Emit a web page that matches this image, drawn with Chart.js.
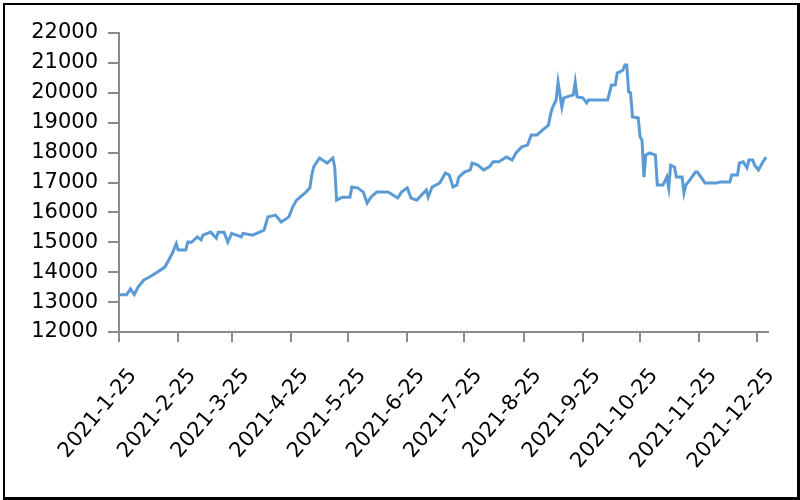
<!DOCTYPE html>
<html>
<head>
<meta charset="utf-8">
<script src="https://cdn.jsdelivr.net/npm/chart.js@4.4.0/dist/chart.umd.min.js"></script>
<style>
    html, body { margin: 0; padding: 0; background: #fff; }
    #wrap { width: 800px; height: 500px; position: relative; }
</style>
</head>
<body>
<div id="wrap"><canvas id="priceChart" width="800" height="500"></canvas></div>
<script>
    // 价格走势 (日期 / 价格)
    const dates = [
        '2021-01-25', '2021-01-29', '2021-01-31', '2021-02-02', '2021-02-04', '2021-02-07', '2021-02-10',
        '2021-02-14', '2021-02-18', '2021-02-20', '2021-02-22', '2021-02-24', '2021-02-25', '2021-03-01',
        '2021-03-02', '2021-03-04', '2021-03-07', '2021-03-09', '2021-03-10', '2021-03-14', '2021-03-17',
        '2021-03-18', '2021-03-21', '2021-03-23', '2021-03-25', '2021-03-30', '2021-03-31', '2021-04-05',
        '2021-04-11', '2021-04-13', '2021-04-17', '2021-04-20', '2021-04-24', '2021-04-26', '2021-04-28',
        '2021-05-03', '2021-05-05', '2021-05-06', '2021-05-07', '2021-05-10', '2021-05-14', '2021-05-17',
        '2021-05-18', '2021-05-19', '2021-05-22', '2021-05-26', '2021-05-27', '2021-05-30', '2021-06-02',
        '2021-06-04', '2021-06-06', '2021-06-09', '2021-06-15', '2021-06-20', '2021-06-22', '2021-06-25',
        '2021-06-27', '2021-06-30', '2021-07-05', '2021-07-06', '2021-07-08', '2021-07-12', '2021-07-15',
        '2021-07-17', '2021-07-19', '2021-07-21', '2021-07-22', '2021-07-25', '2021-07-28', '2021-07-29',
        '2021-08-01', '2021-08-04', '2021-08-07', '2021-08-09', '2021-08-12', '2021-08-16', '2021-08-19',
        '2021-08-21', '2021-08-24', '2021-08-27', '2021-08-29', '2021-09-01', '2021-09-04', '2021-09-07',
        '2021-09-08', '2021-09-09', '2021-09-11', '2021-09-12', '2021-09-14', '2021-09-15', '2021-09-20',
        '2021-09-21', '2021-09-22', '2021-09-25', '2021-09-27', '2021-09-28', '2021-10-08', '2021-10-10',
        '2021-10-12', '2021-10-13', '2021-10-16', '2021-10-17', '2021-10-18', '2021-10-19', '2021-10-20',
        '2021-10-21', '2021-10-24', '2021-10-25', '2021-10-26', '2021-10-27', '2021-10-28', '2021-10-30',
        '2021-11-02', '2021-11-03', '2021-11-06', '2021-11-08', '2021-11-09', '2021-11-10', '2021-11-12',
        '2021-11-13', '2021-11-16', '2021-11-17', '2021-11-18', '2021-11-20', '2021-11-23', '2021-11-24',
        '2021-11-27', '2021-11-28', '2021-12-04', '2021-12-06', '2021-12-11', '2021-12-12', '2021-12-15',
        '2021-12-16', '2021-12-18', '2021-12-20', '2021-12-21', '2021-12-23', '2021-12-24', '2021-12-26',
        '2021-12-28', '2021-12-30'
    ];
    const prices = [
        13250, 13250, 13440, 13250, 13500, 13740, 13840,
        14000, 14170, 14400, 14640, 14950, 14740, 14740,
        15010, 15000, 15180, 15080, 15240, 15340, 15140,
        15340, 15340, 15010, 15300, 15180, 15300, 15240,
        15410, 15850, 15910, 15680, 15850, 16180, 16410,
        16680, 16820, 17250, 17520, 17820, 17650, 17820,
        17520, 16410, 16510, 16510, 16850, 16820, 16680,
        16310, 16510, 16680, 16680, 16480, 16680, 16820,
        16480, 16410, 16750, 16510, 16850, 16980, 17320,
        17250, 16850, 16920, 17180, 17350, 17420, 17650,
        17580, 17420, 17520, 17690, 17690, 17850, 17750,
        17990, 18190, 18250, 18590, 18590, 18760, 18920,
        19260, 19490, 19760, 20360, 19520, 19830, 19930,
        20360, 19860, 19830, 19660, 19760, 19760, 20260,
        20260, 20660, 20760, 20930, 20930, 20030, 20000,
        19190, 19160, 18520, 18420, 17180, 17920, 17990,
        17920, 16920, 16920, 17180, 16820, 17580, 17520,
        17180, 17180, 16650, 16920, 17080, 17350, 17350,
        17080, 16980, 16980, 17020, 17020, 17250, 17250,
        17650, 17690, 17490, 17750, 17750, 17580, 17420,
        17650, 17850
    ];

    // 横轴刻度
    const tickDates = [
        '2021-01-25', '2021-02-25', '2021-03-25', '2021-04-25', '2021-05-25', '2021-06-25',
        '2021-07-25', '2021-08-25', '2021-09-25', '2021-10-25', '2021-11-25', '2021-12-25'
    ];
    const axisStart = '2021-01-25';
    const axisEnd = '2021-12-31';

    const yMin = 12000;
    const yMax = 22000;
    const yStep = 1000;

    const DAY = 86400000;
    function dayIndex(d) {
        return (Date.parse(d) - Date.parse(axisStart)) / DAY;
    }
    function tickLabel(d) {
        const p = d.split('-');
        return p[0] + '-' + parseInt(p[1], 10) + '-' + parseInt(p[2], 10);
    }

    const points = dates.map((d, i) => ({ x: dayIndex(d), y: prices[i] }));
    const tickPos = tickDates.map(dayIndex);

    // 外框
    const framePlugin = {
        id: 'frame',
        beforeDraw(chart) {
            const c = chart.ctx;
            c.save();
            c.fillStyle = '#ffffff';
            c.fillRect(0, 0, chart.width, chart.height);
            c.restore();
        },
        afterDraw(chart) {
            const c = chart.ctx;
            c.save();
            c.fillStyle = '#000000';
            c.fillRect(3, 3, 797, 2);
            c.fillRect(3, 3, 2, 497);
            c.fillRect(797, 3, 3, 497);
            c.fillRect(3, 497, 797, 3);
            c.restore();
        }
    };

    const axisColor = '#8a8a8a';

    const ctx = document.getElementById('priceChart').getContext('2d');
    window.priceChart = new Chart(ctx, {
        type: 'line',
        data: {
            datasets: [{
                data: points,
                borderColor: '#5b9bd5',
                borderWidth: 3,
                pointRadius: 0,
                tension: 0,
                fill: false
            }]
        },
        options: {
            responsive: false,
            animation: false,
            layout: {
                padding: { left: 10, top: 33, right: 32, bottom: 0 }
            },
            plugins: {
                legend: { display: false },
                tooltip: { enabled: false }
            },
            scales: {
                x: {
                    type: 'linear',
                    min: dayIndex(axisStart),
                    max: dayIndex(axisEnd),
                    afterBuildTicks: function(scale) {
                        scale.ticks = tickPos.map(v => ({ value: v }));
                    },
                    afterFit: function(scale) {
                        scale.height = 168;
                    },
                    border: { color: axisColor, width: 2 },
                    grid: {
                        drawOnChartArea: false,
                        drawTicks: true,
                        tickLength: 10,
                        color: axisColor,
                        lineWidth: 2
                    },
                    ticks: {
                        autoSkip: false,
                        minRotation: 50,
                        maxRotation: 50,
                        padding: 22,
                        labelOffset: 14,
                        color: '#000000',
                        font: { family: 'DejaVu Sans', size: 21 },
                        callback: function(value) {
                            const i = tickPos.indexOf(value);
                            return i >= 0 ? tickLabel(tickDates[i]) : '';
                        }
                    }
                },
                y: {
                    min: yMin,
                    max: yMax,
                    afterFit: function(scale) {
                        scale.width = 109;
                    },
                    border: { color: axisColor, width: 2 },
                    grid: {
                        drawOnChartArea: false,
                        drawTicks: true,
                        tickLength: 11,
                        color: axisColor,
                        lineWidth: 2
                    },
                    ticks: {
                        stepSize: yStep,
                        padding: 10,
                        color: '#000000',
                        font: { family: 'DejaVu Sans', size: 21 },
                        callback: function(value) {
                            return String(value);
                        }
                    }
                }
            }
        },
        plugins: [framePlugin]
    });
</script>
</body>
</html>
